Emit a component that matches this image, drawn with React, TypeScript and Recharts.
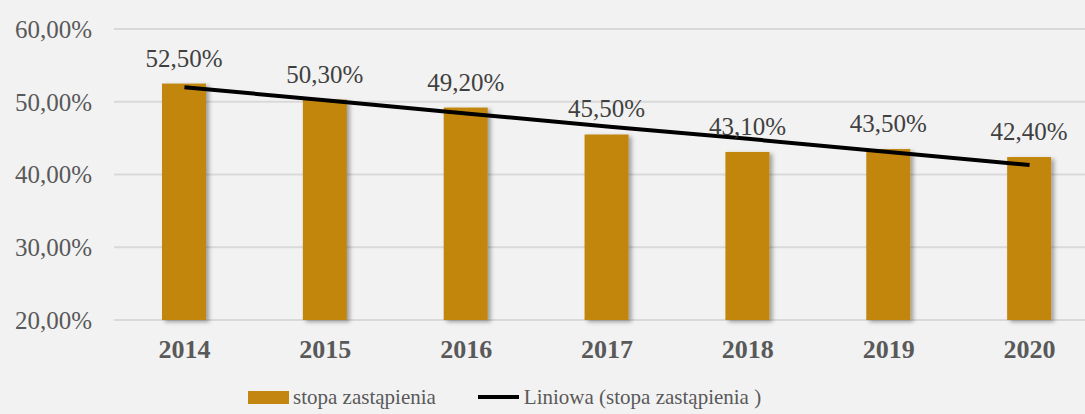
import { Bar, CartesianGrid, ComposedChart, LabelList, Legend, Line, XAxis, YAxis } from "recharts"

const years = ["2014", "2015", "2016", "2017", "2018", "2019", "2020"]
const rates = [52.5, 50.3, 49.2, 45.5, 43.1, 43.5, 42.4]
// linear trend
const trend = [52.0, 50.2, 48.4, 46.6, 44.9, 43.1, 41.3]
const yTicks = [20, 30, 40, 50, 60]

const data = years.map((year, i) => ({ year, rate: rates[i], trend: trend[i] }))

const FONT = "'Liberation Serif', 'DejaVu Serif', serif"
const BAR = "#c38610"

const pct = (v: number) => v.toFixed(2).replace(".", ",") + "%"

const ShadowBar = (props: any) => {
  const { x, y, width, height } = props
  if (height <= 0) return null
  return <rect x={x} y={y} width={width} height={height} fill={BAR} filter="url(#barShadow)" />
}

const LegendBox = () => (
  <div
    style={{
      height: 34,
      display: "flex",
      alignItems: "center",
      paddingLeft: 248,
      fontFamily: FONT,
      fontSize: 21,
      color: "#595959",
    }}
  >
    <span style={{ display: "inline-block", width: 41, height: 13, background: BAR, marginRight: 4 }} />
    <span>stopa zastąpienia</span>
    <span style={{ display: "inline-block", width: 41, height: 4, background: "#000", marginLeft: 42, marginRight: 5 }} />
    <span>Liniowa (stopa zastąpienia )</span>
  </div>
)

export default function App() {
  return (
    <div
      style={{
        position: "fixed",
        top: 0,
        left: 0,
        width: 1085,
        height: 414,
        overflow: "hidden",
        background: "#f2f2f2",
      }}
    >
      <ComposedChart width={1101} height={414} data={data} margin={{ top: 29, right: 1, left: 0, bottom: 0 }}>
        <defs>
          <filter id="barShadow" x="-30%" y="-10%" width="160%" height="120%">
            <feDropShadow dx="3" dy="2" stdDeviation="2" floodColor="#000" floodOpacity="0.35" />
          </filter>
        </defs>
        <CartesianGrid vertical={false} stroke="#d9d9d9" strokeWidth={2} />
        <XAxis
          dataKey="year"
          axisLine={false}
          tickLine={false}
          tickSize={0}
          tickMargin={20}
          height={60}
          tick={{ fontFamily: FONT, fontSize: 26, fontWeight: 700, fill: "#595959" }}
        />
        <YAxis
          domain={[20, 60]}
          ticks={yTicks}
          width={114}
          axisLine={false}
          tickLine={false}
          tickSize={0}
          tickMargin={22}
          tickFormatter={pct}
          tick={{ fontFamily: FONT, fontSize: 25, fill: "#595959" }}
        />
        <Legend verticalAlign="bottom" content={<LegendBox />} />
        <Bar dataKey="rate" barSize={44} fill={BAR} shape={ShadowBar} isAnimationActive={false}>
          <LabelList
            dataKey="rate"
            position="top"
            offset={17}
            formatter={(v: any) => pct(Number(v))}
            style={{ fontFamily: FONT, fontSize: 25, fill: "#404040" }}
          />
        </Bar>
        <Line dataKey="trend" type="linear" stroke="#000" strokeWidth={4} dot={false} activeDot={false} isAnimationActive={false} />
      </ComposedChart>
    </div>
  )
}
